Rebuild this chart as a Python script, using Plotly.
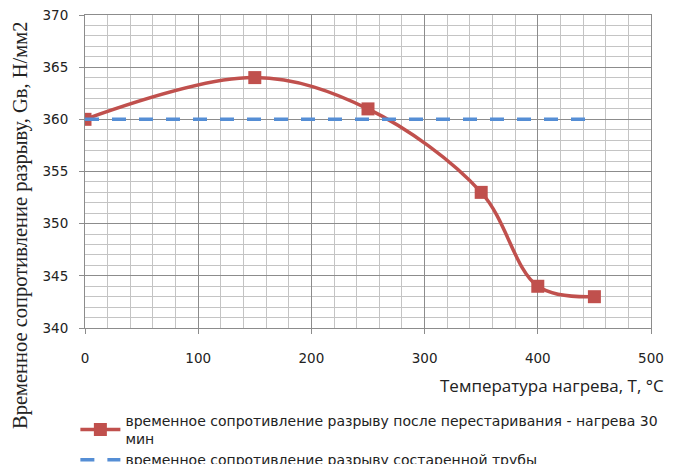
import plotly.graph_objects as go

temps = [0, 150, 250, 350, 400, 450]
strength_overaged = [360, 364, 361, 353, 344, 343]
temps_aged = [0, 450]
strength_aged = [360, 360]

name1 = "временное сопротивление разрыву после перестаривания - нагрева 30<br>мин"
name2 = "временное сопротивление разрыву состаренной трубы"
x_title = "Температура нагрева, Т, °С"
y_title = "Временное сопротивление разрыву, Gв, Н/мм2"

fig = go.Figure()
fig.add_trace(go.Scatter(
    x=temps, y=strength_overaged, name=name1, mode="lines+markers",
    line=dict(color="#C0504D", width=3.5, shape="spline", smoothing=1.0),
    marker=dict(symbol="square", size=13, color="#C0504D"),
))
fig.add_trace(go.Scatter(
    x=temps_aged, y=strength_aged, name=name2, mode="lines",
    line=dict(color="#558ED5", width=3.5, dash="14px,13px"),
))

fig.update_layout(
    width=667, height=456,
    margin=dict(l=77, r=24, t=7, b=136, autoexpand=False),
    paper_bgcolor="white", plot_bgcolor="white",
    font=dict(family="DejaVu Sans", size=13, color="#222222"),
    showlegend=True,
    legend=dict(x=-0.017, y=-0.245, xanchor="left", yanchor="top",
                font=dict(family="DejaVu Sans", size=14, color="#222222"),
                tracegroupgap=0, itemwidth=40, bgcolor="rgba(0,0,0,0)"),
    xaxis=dict(
        range=[0, 500], dtick=100, showgrid=True, gridcolor="#8c8c8c", gridwidth=1,
        minor=dict(dtick=20, showgrid=True, gridcolor="#c4c4c4", gridwidth=1),
        ticks="outside", ticklen=5, tickcolor="#8c8c8c", ticklabelstandoff=13,
        ticklabeloverflow="allow",
        showline=True, linecolor="#8c8c8c", mirror=True, zeroline=False,
        tickfont=dict(family="DejaVu Sans", size=13.5, color="#222222"),
    ),
    yaxis=dict(
        range=[340, 370], dtick=5, showgrid=True, gridcolor="#8c8c8c", gridwidth=1,
        minor=dict(dtick=1, showgrid=True, gridcolor="#c4c4c4", gridwidth=1),
        ticks="outside", ticklen=5, tickcolor="#8c8c8c", ticklabelstandoff=8,
        ticklabeloverflow="allow",
        showline=True, linecolor="#8c8c8c", mirror=True, zeroline=False,
        tickfont=dict(family="DejaVu Sans", size=13.5, color="#222222"),
    ),
    annotations=[
        dict(text=x_title, xref="paper", yref="paper", x=(666 - 85) / 566, y=-(385 - 328) / 313,
             xanchor="right", yanchor="middle", showarrow=False,
             font=dict(family="Open Sans", size=17, color="#222222")),
        dict(text=y_title, xref="paper", yref="paper", x=-(85 - 20) / 566, y=(328 - 226) / 313,
             xanchor="center", yanchor="middle", showarrow=False, textangle=-90,
             font=dict(family="Liberation Serif", size=20.5, color="#222222")),
    ],
)

fig.write_html("out.html")
